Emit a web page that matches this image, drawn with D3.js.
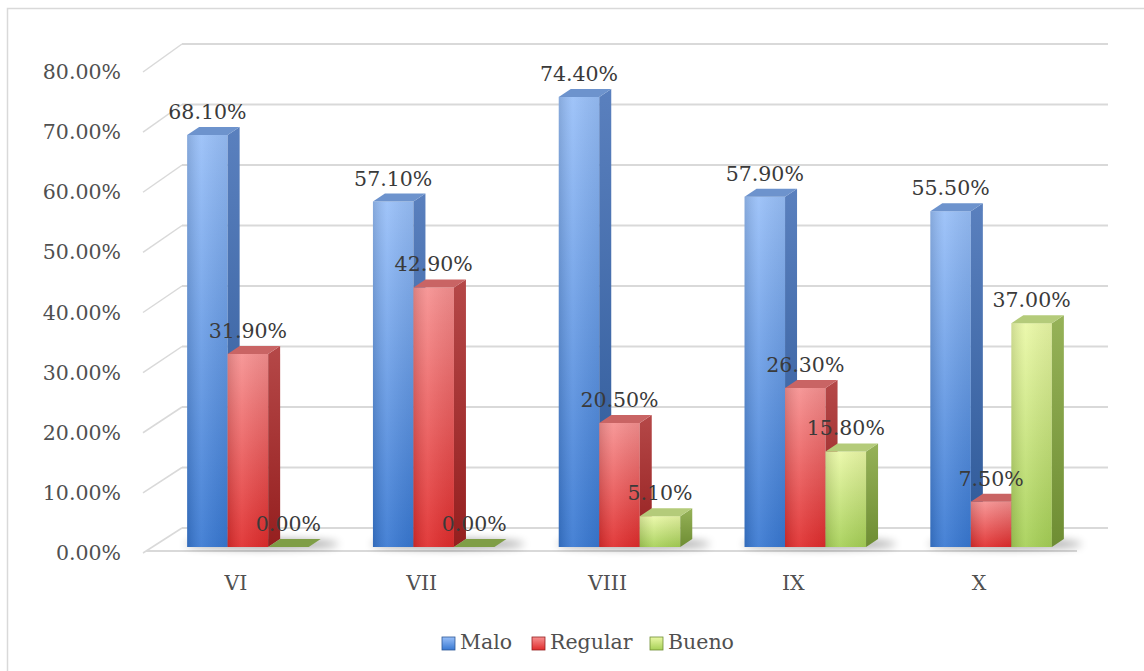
<!DOCTYPE html>
<html>
<head>
<meta charset="utf-8">
<script src="https://cdn.jsdelivr.net/npm/d3@7"></script>
<style>
  body { margin: 0; background: #fff; }
  text { font-family: "DejaVu Serif", serif; }
</style>
</head>
<body>
<div id="chart"></div>
<script>
const categories = ['VI', 'VII', 'VIII', 'IX', 'X'];
const seriesNames = ['Malo', 'Regular', 'Bueno'];
const malo = [68.1, 57.1, 74.4, 57.9, 55.5];
const regular = [31.9, 42.9, 20.5, 26.3, 7.5];
const bueno = [0, 0, 5.1, 15.8, 37.0];
const yTicks = [0, 10, 20, 30, 40, 50, 60, 70, 80];

const series = [malo, regular, bueno];
const width = 1144;
const height = 671;

// face colours per series: front top/bottom, side top/bottom, top face
const palette = [
  { f0: '#98bff8', f1: '#3878d2', s0: '#5a80be', s1: '#2d5897', t: '#6d93cd' },
  { f0: '#f69090', f1: '#e02c2c', s0: '#b54848', s1: '#951f1f', t: '#c96464' },
  { f0: '#eaf8a6', f1: '#a6d056', s0: '#96b258', s1: '#6e8d33', t: '#b4cb7a' }
];

const svg = d3.select('#chart').append('svg')
  .attr('width', width)
  .attr('height', height);

const defs = svg.append('defs');
palette.forEach(function (p, i) {
  const gf = defs.append('linearGradient').attr('id', `front${i}`)
    .attr('x1', 0).attr('y1', 0).attr('x2', 0).attr('y2', 1);
  gf.append('stop').attr('offset', '0%').attr('stop-color', p.f0);
  gf.append('stop').attr('offset', '100%').attr('stop-color', p.f1);
  const gs = defs.append('linearGradient').attr('id', `side${i}`)
    .attr('x1', 0).attr('y1', 0).attr('x2', 0).attr('y2', 1);
  gs.append('stop').attr('offset', '0%').attr('stop-color', p.s0);
  gs.append('stop').attr('offset', '100%').attr('stop-color', p.s1);
  // horizontal shade for the front face
  const gh = defs.append('linearGradient').attr('id', `shade${i}`)
    .attr('x1', 0).attr('y1', 0).attr('x2', 1).attr('y2', 0);
  gh.append('stop').attr('offset', '0%').attr('stop-color', '#000').attr('stop-opacity', 0.12);
  gh.append('stop').attr('offset', '35%').attr('stop-color', '#fff').attr('stop-opacity', 0.08);
  gh.append('stop').attr('offset', '100%').attr('stop-color', '#000').attr('stop-opacity', 0.06);
});
defs.append('filter').attr('id', 'blur')
  .attr('x', '-50%').attr('y', '-200%').attr('width', '200%').attr('height', '500%')
  .append('feGaussianBlur').attr('stdDeviation', 4);

// outer frame
svg.append('rect')
  .attr('x', 7.5).attr('y', 8.5)
  .attr('width', 1150).attr('height', 700)
  .attr('fill', 'none')
  .attr('stroke', '#d9d9d9')
  .attr('stroke-width', 1.5);

// scales: front plane, back wall and bar plane
const yFront = d3.scaleLinear().domain([0, 80]).range([553, 72]);
const yBack = d3.scaleLinear().domain([0, 80]).range([528, 44]);
const yBar = d3.scaleLinear().domain([0, 80]).range([547, 63]);

const x0 = d3.scaleBand().domain(categories).range([155, 1084])
  .paddingInner(0.346).paddingOuter(0.173);
const x1 = d3.scaleBand().domain(seriesNames).range([0, x0.bandwidth()]);

const wallLeft = 182;
const wallRight = 1108;
const frontLeft = 143;
const dx = 12;
const dy = 8;

// back wall gridlines
svg.append('g').attr('class', 'grid')
  .selectAll('line')
  .data(yTicks)
  .enter()
  .append('line')
  .attr('x1', wallLeft).attr('x2', wallRight)
  .attr('y1', (d) => yBack(d)).attr('y2', (d) => yBack(d))
  .attr('stroke', '#d9d9d9')
  .attr('stroke-width', 2);

// side wall diagonals
svg.append('g').attr('class', 'sidegrid')
  .selectAll('line')
  .data(yTicks)
  .enter()
  .append('line')
  .attr('x1', frontLeft).attr('x2', wallLeft)
  .attr('y1', (d) => yFront(d)).attr('y2', (d) => yBack(d))
  .attr('stroke', '#d9d9d9')
  .attr('stroke-width', 1.5);

// floor front edge
svg.append('line')
  .attr('x1', 146).attr('x2', 1077)
  .attr('y1', 551).attr('y2', 551)
  .attr('stroke', '#d9d9d9')
  .attr('stroke-width', 2);

// y axis labels
const yAxis = svg.append('g')
  .attr('class', 'axis yaxis')
  .attr('transform', `translate(${frontLeft},0)`)
  .call(d3.axisLeft(yFront)
    .tickValues(yTicks)
    .tickFormat((d) => `${d.toFixed(2)}%`)
    .tickSize(0)
    .tickPadding(22));
yAxis.select('.domain').remove();
yAxis.selectAll('text')
  .style('font-family', '"DejaVu Serif", serif')
  .style('font-size', '20.5px')
  .attr('fill', '#505050');

// x axis labels
const xAxis = svg.append('g')
  .attr('class', 'axis xaxis')
  .attr('transform', 'translate(-12,551)')
  .call(d3.axisBottom(x0).tickSize(0).tickPadding(24));
xAxis.select('.domain').remove();
xAxis.selectAll('text')
  .style('font-family', '"DejaVu Serif", serif')
  .style('font-size', '20.5px')
  .attr('fill', '#505050');

// shadows under groups
svg.append('g').attr('class', 'shadows')
  .selectAll('ellipse')
  .data(categories)
  .enter()
  .append('ellipse')
  .attr('cx', (d) => x0(d) + x0.bandwidth() / 2 + 14)
  .attr('cy', 544)
  .attr('rx', x0.bandwidth() / 2 + 16)
  .attr('ry', 5)
  .attr('fill', '#000')
  .attr('opacity', 0.35)
  .attr('filter', 'url(#blur)');

// bars
const barData = [];
categories.forEach(function (c, ci) {
  seriesNames.forEach(function (s, si) {
    barData.push({ cat: c, name: s, si: si, value: series[si][ci] });
  });
});

const bars = svg.append('g').attr('class', 'bars')
  .selectAll('g')
  .data(barData)
  .enter()
  .append('g');

const bw = x1.bandwidth();
const bx = (d) => x0(d.cat) + x1(d.name);

bars.filter((d) => d.value > 0)
  .append('rect')
  .attr('x', bx)
  .attr('y', (d) => yBar(d.value))
  .attr('width', bw)
  .attr('height', (d) => yBar(0) - yBar(d.value))
  .attr('fill', (d) => `url(#front${d.si})`);

bars.filter((d) => d.value > 0)
  .append('rect')
  .attr('x', bx)
  .attr('y', (d) => yBar(d.value))
  .attr('width', bw)
  .attr('height', (d) => yBar(0) - yBar(d.value))
  .attr('fill', (d) => `url(#shade${d.si})`);

bars.filter((d) => d.value > 0)
  .append('path')
  .attr('d', function (d) {
    const xr = bx(d) + bw;
    const yt = yBar(d.value);
    const yb = yBar(0);
    return `M${xr},${yt}L${xr + dx},${yt - dy}L${xr + dx},${yb - dy}L${xr},${yb}Z`;
  })
  .attr('fill', (d) => `url(#side${d.si})`);

bars.append('path')
  .attr('d', function (d) {
    const xl = bx(d);
    const yt = yBar(d.value);
    return `M${xl},${yt}L${xl + bw},${yt}L${xl + bw + dx},${yt - dy}L${xl + dx},${yt - dy}Z`;
  })
  .attr('fill', (d) => (d.value > 0 ? palette[d.si].t : '#7f9e46'));

// data labels
svg.append('g').attr('class', 'labels')
  .selectAll('text')
  .data(barData)
  .enter()
  .append('text')
  .attr('x', (d) => bx(d) + bw / 2)
  .attr('y', (d) => yBar(d.value) - 16)
  .attr('text-anchor', 'middle')
  .style('font-size', '20.5px')
  .attr('fill', '#3a3a3a')
  .text((d) => `${d.value.toFixed(2)}%`);

// legend
const legendX = [442, 532, 650];
const legend = svg.append('g').attr('class', 'legend')
  .selectAll('g')
  .data(seriesNames)
  .enter()
  .append('g')
  .attr('transform', (d, i) => `translate(${legendX[i]},637)`);
legend.append('rect')
  .attr('width', 13).attr('height', 13)
  .attr('fill', (d, i) => `url(#front${i})`);
legend.append('rect')
  .attr('width', 13).attr('height', 13)
  .attr('fill', 'none')
  .attr('stroke', (d, i) => palette[i].s1)
  .attr('stroke-width', 0.8);
legend.append('text')
  .attr('x', 18)
  .attr('y', 12)
  .style('font-size', '20.5px')
  .attr('fill', '#505050')
  .text((d) => d);
</script>
</body>
</html>
